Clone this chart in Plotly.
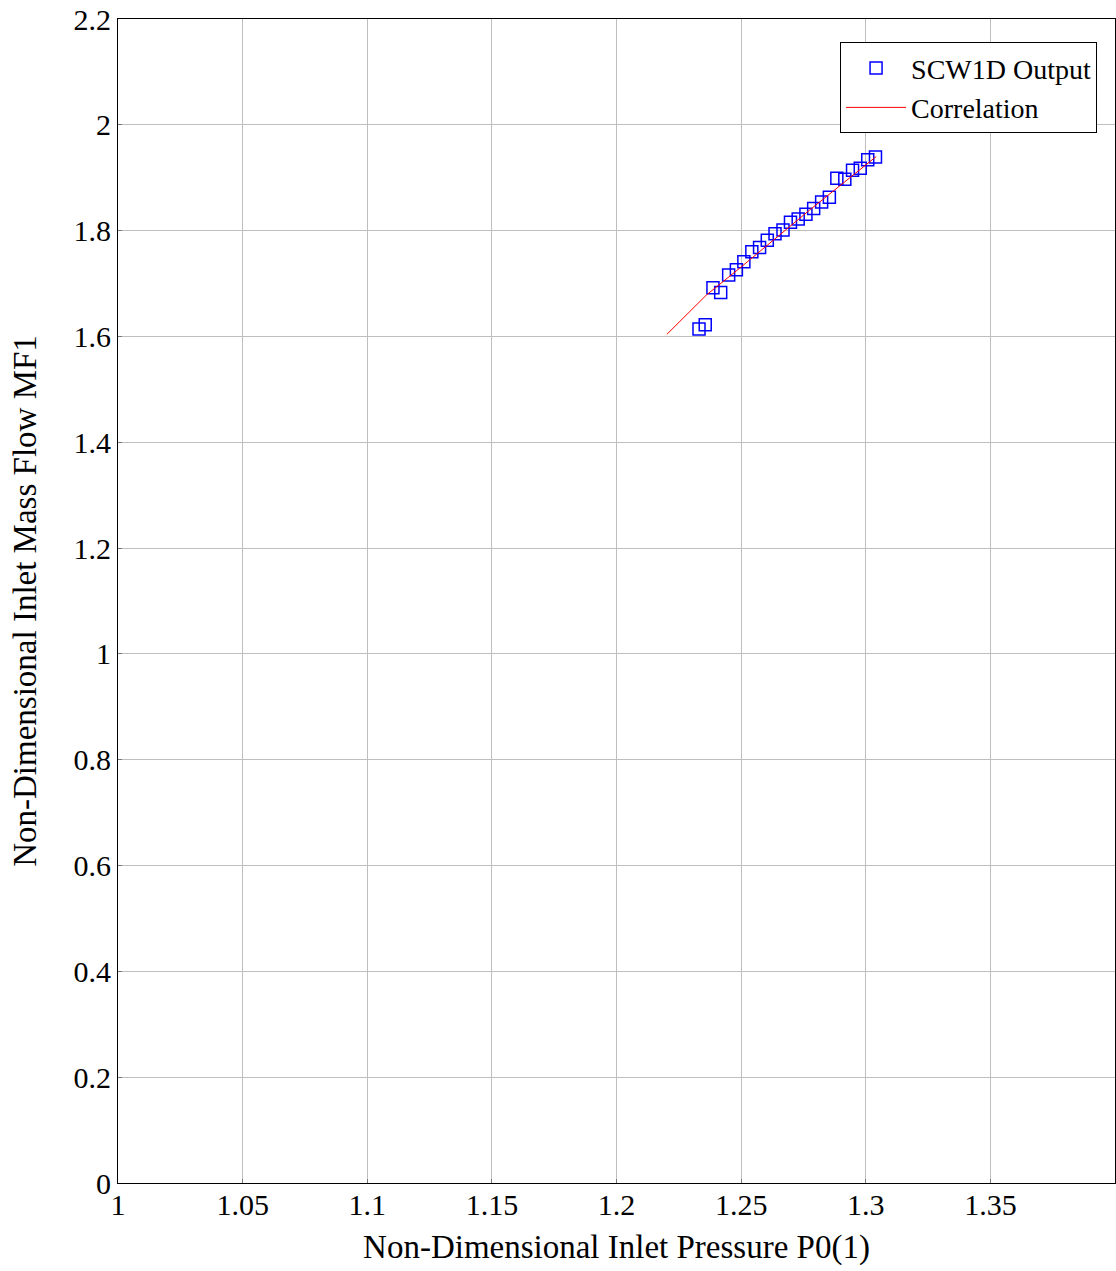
import plotly.graph_objects as go

# SCW1D output data
p0 = [1.2331, 1.2356, 1.2387, 1.2418, 1.2450, 1.2481, 1.2511, 1.2543, 1.2574, 1.2605,
      1.2636, 1.2668, 1.2698, 1.2729, 1.2760, 1.2791, 1.2823, 1.2854, 1.2884, 1.2916,
      1.2947, 1.2978, 1.3008, 1.3039]
mf1 = [1.614, 1.622, 1.692, 1.683, 1.716, 1.726, 1.741, 1.760, 1.768, 1.782,
       1.794, 1.801, 1.816, 1.822, 1.831, 1.842, 1.854, 1.863, 1.899, 1.897,
       1.914, 1.918, 1.934, 1.939]

# Correlation curve
corr_x = [1.2202, 1.2360, 1.2494, 1.2775, 1.3042]
corr_y = [1.604, 1.678, 1.729, 1.839, 1.940]

x_ticks = [1, 1.05, 1.1, 1.15, 1.2, 1.25, 1.3, 1.35]
y_ticks = [0, 0.2, 0.4, 0.6, 0.8, 1, 1.2, 1.4, 1.6, 1.8, 2, 2.2]

font_family = "Liberation Serif, DejaVu Serif, serif"

fig = go.Figure()
fig.add_trace(go.Scatter(
    x=p0, y=mf1, mode="markers", name="SCW1D Output",
    marker=dict(symbol="square-open", size=12, color="rgb(0,0,255)",
                line=dict(width=1.5, color="rgb(0,0,255)")),
))
fig.add_trace(go.Scatter(
    x=corr_x, y=corr_y, mode="lines", name="Correlation",
    line=dict(color="rgb(255,0,0)", width=1),
))

axis_common = dict(
    showline=True, linecolor="black", linewidth=1, mirror=True,
    showgrid=True, gridcolor="rgb(190,190,190)", gridwidth=1,
    ticks="inside", ticklen=4, tickcolor="rgb(120,120,120)",
    zeroline=False,
    tickfont=dict(family=font_family, size=30, color="black"),
)

fig.update_layout(
    width=1116, height=1271,
    margin=dict(l=118, r=1, t=19, b=88),
    plot_bgcolor="white", paper_bgcolor="white",
    font=dict(family=font_family, size=30, color="black"),
    xaxis=dict(range=[1, 1.4], tickvals=x_ticks, ticklabelstandoff=-5,
               title=dict(text="Non-Dimensional Inlet Pressure P0(1)", standoff=14,
                          font=dict(family=font_family, size=33)),
               **axis_common),
    yaxis=dict(range=[0, 2.2], tickvals=y_ticks,
               title=dict(text="Non-Dimensional Inlet Mass Flow MF1", standoff=26,
                          font=dict(family=font_family, size=33)),
               **axis_common),
    legend=dict(x=0.982, y=0.980, xanchor="right", yanchor="top",
                bgcolor="white", bordercolor="black", borderwidth=1,
                itemwidth=60, tracegroupgap=0,
                font=dict(family=font_family, size=28)),
    showlegend=True,
)

fig.write_html("out.html")
